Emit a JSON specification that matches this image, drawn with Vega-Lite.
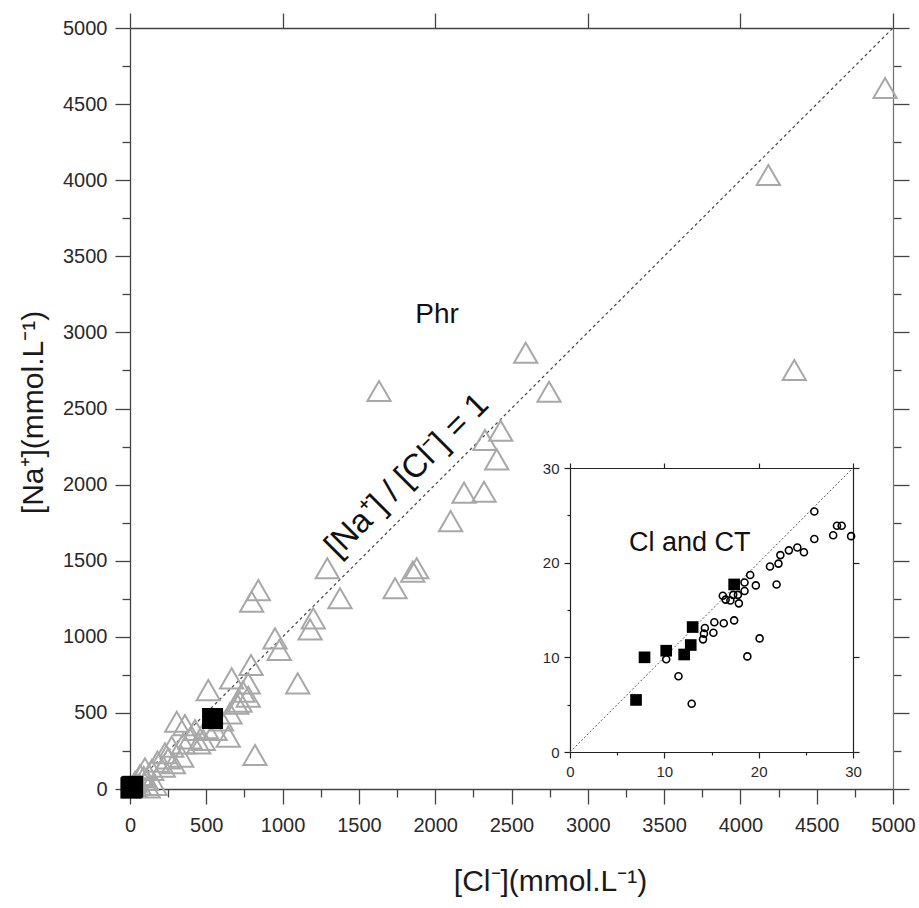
{
  "$schema": "https://vega.github.io/schema/vega-lite/v6.json",
  "width": 763,
  "height": 761,
  "autosize": "none",
  "padding": {"left": 130, "top": 28, "right": 26, "bottom": 119},
  "background": "white",
  "config": {
    "view": {"stroke": null},
    "font": "Liberation Sans",
    "axis": {"grid": false, "domainColor": "#444", "tickColor": "#444", "domainWidth": 1.3, "tickWidth": 1.3, "labelColor": "#2a2a2a", "labelFont": "Liberation Sans", "titleFont": "Liberation Sans", "titleColor": "#1a1a1a", "titleFontWeight": "normal", "labelOverlap": false, "labelFlush": false}
  },
  "datasets": {
    "phr": [
      {"cl": 4948, "na": 4606}, {"cl": 4183, "na": 4034}, {"cl": 4353, "na": 2753}, {"cl": 2593, "na": 2866},
      {"cl": 1632, "na": 2615}, {"cl": 2746, "na": 2610}, {"cl": 2429, "na": 2354}, {"cl": 2326, "na": 2293},
      {"cl": 2403, "na": 2166}, {"cl": 2320, "na": 1953}, {"cl": 2189, "na": 1947}, {"cl": 2101, "na": 1760},
      {"cl": 1293, "na": 1450}, {"cl": 1879, "na": 1450}, {"cl": 1853, "na": 1428}, {"cl": 1737, "na": 1319},
      {"cl": 1376, "na": 1253}, {"cl": 841, "na": 1307}, {"cl": 797, "na": 1231}, {"cl": 1201, "na": 1121},
      {"cl": 1180, "na": 1049}, {"cl": 950, "na": 990}, {"cl": 978, "na": 913}, {"cl": 1099, "na": 694},
      {"cl": 793, "na": 815}, {"cl": 775, "na": 694}, {"cl": 666, "na": 727}, {"cl": 775, "na": 606},
      {"cl": 721, "na": 574}, {"cl": 513, "na": 650}, {"cl": 655, "na": 497}, {"cl": 557, "na": 388},
      {"cl": 644, "na": 344}, {"cl": 819, "na": 223}, {"cl": 306, "na": 442}, {"cl": 360, "na": 420},
      {"cl": 426, "na": 388}, {"cl": 393, "na": 333}, {"cl": 480, "na": 322}, {"cl": 273, "na": 278},
      {"cl": 229, "na": 235}, {"cl": 284, "na": 169}, {"cl": 339, "na": 212}, {"cl": 218, "na": 147},
      {"cl": 142, "na": 125}, {"cl": 98, "na": 136}, {"cl": 109, "na": 59}, {"cl": 164, "na": 26},
      {"cl": 66, "na": 92}, {"cl": 33, "na": 48}, {"cl": 120, "na": 10}, {"cl": 740, "na": 640},
      {"cl": 700, "na": 560}, {"cl": 600, "na": 450}, {"cl": 500, "na": 400}, {"cl": 450, "na": 300},
      {"cl": 350, "na": 300}, {"cl": 250, "na": 200}, {"cl": 180, "na": 180}, {"cl": 60, "na": 30},
      {"cl": 30, "na": 20}, {"cl": 90, "na": 80}
    ],
    "ci": [
      {"cl": 25.9, "na": 25.4}, {"cl": 28.8, "na": 23.9}, {"cl": 28.3, "na": 23.9}, {"cl": 25.9, "na": 22.5},
      {"cl": 27.9, "na": 22.9}, {"cl": 29.8, "na": 22.8}, {"cl": 24.1, "na": 21.6}, {"cl": 24.8, "na": 21.1},
      {"cl": 23.2, "na": 21.3}, {"cl": 22.3, "na": 20.8}, {"cl": 22.1, "na": 19.9}, {"cl": 21.2, "na": 19.6},
      {"cl": 19.1, "na": 18.7}, {"cl": 18.5, "na": 17.9}, {"cl": 19.7, "na": 17.6}, {"cl": 21.9, "na": 17.7},
      {"cl": 18.5, "na": 17.0}, {"cl": 16.2, "na": 16.5}, {"cl": 16.5, "na": 16.1}, {"cl": 17.0, "na": 16.0},
      {"cl": 17.3, "na": 16.6}, {"cl": 17.8, "na": 16.6}, {"cl": 17.9, "na": 15.7}, {"cl": 15.3, "na": 13.7},
      {"cl": 16.3, "na": 13.6}, {"cl": 17.4, "na": 13.9}, {"cl": 14.3, "na": 13.1}, {"cl": 15.2, "na": 12.6},
      {"cl": 14.2, "na": 12.5}, {"cl": 14.1, "na": 11.9}, {"cl": 20.1, "na": 12.0}, {"cl": 10.2, "na": 9.8},
      {"cl": 18.8, "na": 10.1}, {"cl": 11.5, "na": 8.0}, {"cl": 12.9, "na": 5.1}
    ],
    "ct": [
      {"cl": 7.0, "na": 5.5}, {"cl": 7.9, "na": 10.0}, {"cl": 10.2, "na": 10.7}, {"cl": 12.1, "na": 10.3},
      {"cl": 12.8, "na": 11.3}, {"cl": 13.0, "na": 13.2}, {"cl": 17.4, "na": 17.7}, {"cl": 541, "na": 463}
    ]
  },
  "layer": [
    {
      "data": {"values": [{"cl": 0, "na": 0}, {"cl": 5000, "na": 5000}]},
      "mark": {"type": "line", "color": "#444", "strokeWidth": 1.2, "strokeDash": [3, 3]},
      "encoding": {
        "x": {"field": "cl", "type": "quantitative", "scale": {"domain": [0, 5000], "nice": false},
          "axis": {"orient": "bottom", "values": [0,250,500,750,1000,1250,1500,1750,2000,2250,2500,2750,3000,3250,3500,3750,4000,4250,4500,4750,5000],
            "labelExpr": "datum.value % 500 === 0 ? datum.label : ''", "format": "d",
            "tickSize": {"condition": {"test": "datum.value % 500 === 0", "value": 15}, "value": 8},
            "labelFontSize": 20, "labelPadding": 11,
            "title": "[Cl⁻](mmol.L⁻¹)", "titleFontSize": 30, "titleX": 420, "titleY": 77, "titleBaseline": "top", "titleAlign": "center"}},
        "y": {"field": "na", "type": "quantitative", "scale": {"domain": [0, 5000], "nice": false},
          "axis": {"orient": "left", "values": [0,250,500,750,1000,1250,1500,1750,2000,2250,2500,2750,3000,3250,3500,3750,4000,4250,4500,4750,5000],
            "labelExpr": "datum.value % 500 === 0 ? datum.label : ''", "format": "d",
            "tickSize": {"condition": {"test": "datum.value % 500 === 0", "value": 15}, "value": 8},
            "labelFontSize": 20, "labelPadding": 8,
            "title": "[Na⁺](mmol.L⁻¹)", "titleFontSize": 30, "titleX": -97, "titleY": 384, "titleAngle": 270, "titleBaseline": "middle", "titleAlign": "center"}}
      }
    },
    {
      "data": {"name": "phr"},
      "mark": {"type": "point", "shape": "triangle-up", "filled": false, "size": 540, "stroke": "#a8a8a8", "strokeWidth": 2, "opacity": 1},
      "encoding": {
        "x": {"field": "cl", "type": "quantitative", "scale": {"domain": [0, 5000], "nice": false},
          "axis": {"orient": "top", "values": [0, 1000, 2000, 3000, 4000, 5000], "labels": false, "tickSize": 15, "title": null}},
        "y": {"field": "na", "type": "quantitative", "scale": {"domain": [0, 5000], "nice": false},
          "axis": {"orient": "right", "values": [0,250,500,750,1000,1250,1500,1750,2000,2250,2500,2750,3000,3250,3500,3750,4000,4250,4500,4750,5000],
            "labels": false, "title": null, "domainColor": "#777",
            "tickSize": {"condition": {"test": "datum.value % 500 === 0", "value": 16}, "value": 8}}}
      }
    },
    {
      "data": {"name": "ci"},
      "mark": {"type": "point", "shape": "circle", "filled": false, "size": 49, "stroke": "black", "strokeWidth": 1.6, "opacity": 1},
      "encoding": {
        "x": {"field": "cl", "type": "quantitative", "scale": {"domain": [0, 5000], "nice": false}, "axis": null},
        "y": {"field": "na", "type": "quantitative", "scale": {"domain": [0, 5000], "nice": false}, "axis": null}
      }
    },
    {
      "data": {"name": "ct"},
      "mark": {"type": "square", "size": 441, "color": "black", "opacity": 1},
      "encoding": {
        "x": {"field": "cl", "type": "quantitative", "scale": {"domain": [0, 5000], "nice": false}, "axis": null},
        "y": {"field": "na", "type": "quantitative", "scale": {"domain": [0, 5000], "nice": false}, "axis": null}
      }
    },
    {
      "data": {"values": [{"label": "Phr", "cl": 2012, "na": 3114, "angle": 0, "size": 28}, {"label": "[Na⁺] / [Cl⁻] = 1", "cl": 1815, "na": 2060, "angle": 315, "size": 33}]},
      "mark": {"type": "text", "color": "#111", "align": "center", "baseline": "middle", "font": "Liberation Sans"},
      "encoding": {
        "x": {"field": "cl", "type": "quantitative", "scale": {"domain": [0, 5000], "nice": false}, "axis": null},
        "y": {"field": "na", "type": "quantitative", "scale": {"domain": [0, 5000], "nice": false}, "axis": null},
        "text": {"field": "label"},
        "angle": {"field": "angle", "type": "quantitative", "scale": null},
        "size": {"field": "size", "type": "quantitative", "scale": null}
      }
    },
    {
      "data": {"values": [{"cl": 0, "na": 0}, {"cl": 30, "na": 30}]},
      "mark": {"type": "line", "color": "#555", "strokeWidth": 1, "strokeDash": [2, 2]},
      "encoding": {
        "x": {"field": "cl", "type": "quantitative", "scale": {"domain": [0, 30], "nice": false, "range": [440, 723]},
          "axis": {"orient": "bottom", "offset": -37, "values": [0, 5, 10, 15, 20, 25, 30],
            "labelExpr": "datum.value % 10 === 0 ? datum.label : ''",
            "tickSize": {"condition": {"test": "datum.value % 10 === 0", "value": 6}, "value": 3},
            "domainColor": "#222", "tickColor": "#222", "domainWidth": 1.2, "tickWidth": 1.2,
            "labelFontSize": 15, "labelPadding": 6, "title": null}},
        "y": {"field": "na", "type": "quantitative", "scale": {"domain": [0, 30], "nice": false, "range": [724, 440]},
          "axis": {"orient": "left", "offset": -440, "values": [0, 5, 10, 15, 20, 25, 30],
            "labelExpr": "datum.value % 10 === 0 ? datum.label : ''",
            "tickSize": {"condition": {"test": "datum.value % 10 === 0", "value": 6}, "value": 3},
            "domainColor": "#222", "tickColor": "#222", "domainWidth": 1.2, "tickWidth": 1.2,
            "labelFontSize": 15, "labelPadding": 5, "title": null}}
      }
    },
    {
      "data": {"name": "ci"},
      "mark": {"type": "point", "shape": "circle", "filled": false, "size": 49, "stroke": "black", "strokeWidth": 1.6, "opacity": 1},
      "encoding": {
        "x": {"field": "cl", "type": "quantitative", "scale": {"domain": [0, 30], "nice": false, "range": [440, 723]},
          "axis": {"orient": "top", "offset": -440, "values": [0, 10, 20, 30], "labels": false, "tickSize": 5, "title": null,
            "domainColor": "#222", "tickColor": "#222", "domainWidth": 1.2, "tickWidth": 1.2}},
        "y": {"field": "na", "type": "quantitative", "scale": {"domain": [0, 30], "nice": false, "range": [724, 440]},
          "axis": {"orient": "right", "offset": -40, "values": [0, 10, 20, 30], "labels": false, "tickSize": 6, "title": null,
            "domainColor": "#222", "tickColor": "#222", "domainWidth": 1.2, "tickWidth": 1.2}}
      }
    },
    {
      "data": {"name": "ct"},
      "transform": [{"filter": "datum.cl <= 30"}],
      "mark": {"type": "square", "size": 136, "color": "black", "opacity": 1},
      "encoding": {
        "x": {"field": "cl", "type": "quantitative", "scale": {"domain": [0, 30], "nice": false, "range": [440, 723]}, "axis": null},
        "y": {"field": "na", "type": "quantitative", "scale": {"domain": [0, 30], "nice": false, "range": [724, 440]}, "axis": null}
      }
    },
    {
      "data": {"values": [{"label": "Cl and CT", "cl": 12.7, "na": 22.1}]},
      "mark": {"type": "text", "color": "#111", "align": "center", "baseline": "middle", "fontSize": 27, "font": "Liberation Sans"},
      "encoding": {
        "x": {"field": "cl", "type": "quantitative", "scale": {"domain": [0, 30], "nice": false, "range": [440, 723]}, "axis": null},
        "y": {"field": "na", "type": "quantitative", "scale": {"domain": [0, 30], "nice": false, "range": [724, 440]}, "axis": null},
        "text": {"field": "label"}
      }
    }
  ],
  "resolve": {"scale": {"x": "independent", "y": "independent"}, "axis": {"x": "independent", "y": "independent"}}
}
